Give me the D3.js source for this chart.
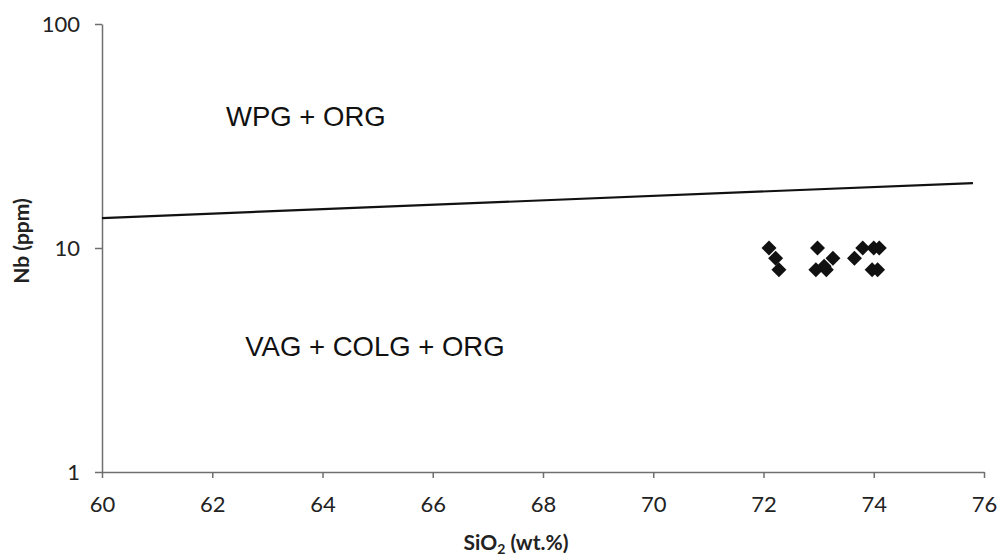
<!DOCTYPE html>
<html>
<head>
<meta charset="utf-8">
<script src="https://cdn.jsdelivr.net/npm/d3@7"></script>
<style>
  body { margin: 0; background: #fff; }
  svg { display: block; }
</style>
</head>
<body>
<svg id="chart"></svg>
<script>
// Sample data (SiO2 wt.%, Nb ppm)
const sio2 = [72.1, 72.22, 72.28, 72.98, 73.26, 72.95, 73.14, 73.1, 73.65, 73.8, 74.0, 74.1, 73.97, 74.07];
const nb   = [10, 9, 8, 10, 9, 8, 8, 8.3, 9, 10, 10, 10, 8, 8];

// Discrimination boundary
const boundaryX = [60, 75.8];
const boundaryY = [13.6, 19.5];

const xTicks = [60, 62, 64, 66, 68, 70, 72, 74, 76];
const yTicks = [1, 10, 100];

const regionLabels = ["WPG + ORG", "VAG + COLG + ORG"];
const regionPos = [[62.25, 35], [62.6, 3.3]];

const W = 998, H = 558;
const svg = d3.select('#chart').attr('width', W).attr('height', H);

const x = d3.scaleLinear().domain([60, 76]).range([102, 984]);
const y = d3.scaleLog().domain([1, 100]).range([472, 24]);

const axisColor = '#6f6f6f';
const tickFont = 'Lato, "Open Sans", sans-serif';

// X axis
const xAxis = svg.append('g')
  .attr('transform', `translate(0,${y(1)})`)
  .call(d3.axisBottom(x).tickValues(xTicks).tickSize(6).tickSizeOuter(0).tickPadding(18));
xAxis.select('.domain').attr('stroke', axisColor).attr('stroke-width', 1.5);
xAxis.selectAll('.tick line').attr('stroke', axisColor).attr('stroke-width', 1.5);
xAxis.selectAll('.tick text')
  .attr('fill', '#222').style('font-family', tickFont).style('font-size', '22px');

// Y axis
const yAxis = svg.append('g')
  .attr('transform', `translate(${x(60)},0)`)
  .call(d3.axisLeft(y).tickValues(yTicks).tickFormat(d3.format('d')).tickSize(7).tickSizeOuter(0).tickPadding(15));
yAxis.select('.domain').attr('stroke', axisColor).attr('stroke-width', 1.5);
yAxis.selectAll('.tick line').attr('stroke', axisColor).attr('stroke-width', 1.5);
yAxis.selectAll('.tick text')
  .attr('fill', '#222').style('font-family', tickFont).style('font-size', '22px');

// Boundary line
svg.append('line')
  .attr('x1', x(boundaryX[0])).attr('y1', y(boundaryY[0]))
  .attr('x2', x(boundaryX[1])).attr('y2', y(boundaryY[1]))
  .attr('stroke', '#111').attr('stroke-width', 2.2);

// Points
svg.selectAll('path.pt')
  .data(sio2.map((d, i) => [d, nb[i]]))
  .enter()
  .append('path')
  .attr('class', 'pt')
  .attr('d', d3.symbol().type(d3.symbolSquare).size(112))
  .attr('transform', d => `translate(${x(d[0])},${y(d[1])}) rotate(45)`)
  .attr('fill', '#111');

// Region labels
svg.selectAll('text.region')
  .data(regionLabels)
  .enter()
  .append('text')
  .attr('class', 'region')
  .attr('x', (d, i) => x(regionPos[i][0]))
  .attr('y', (d, i) => y(regionPos[i][1]))
  .style('font-family', '"Liberation Sans", Arial, sans-serif')
  .style('font-size', '27.5px')
  .attr('fill', '#111')
  .text(d => d);

// Axis titles
const xTitle = svg.append('text')
  .attr('x', 516).attr('y', 550)
  .attr('text-anchor', 'middle')
  .style('font-family', tickFont).style('font-size', '21px').style('font-weight', 'bold')
  .attr('fill', '#222');
xTitle.append('tspan').text('SiO');
xTitle.append('tspan').text('2').attr('dy', 4).style('font-size', '14px');
xTitle.append('tspan').text(' (wt.%)').attr('dy', -4);

svg.append('text')
  .attr('transform', `translate(29,241) rotate(-90)`)
  .attr('text-anchor', 'middle')
  .style('font-family', tickFont).style('font-size', '21px').style('font-weight', 'bold')
  .attr('fill', '#222')
  .text('Nb (ppm)');
</script>
</body>
</html>
